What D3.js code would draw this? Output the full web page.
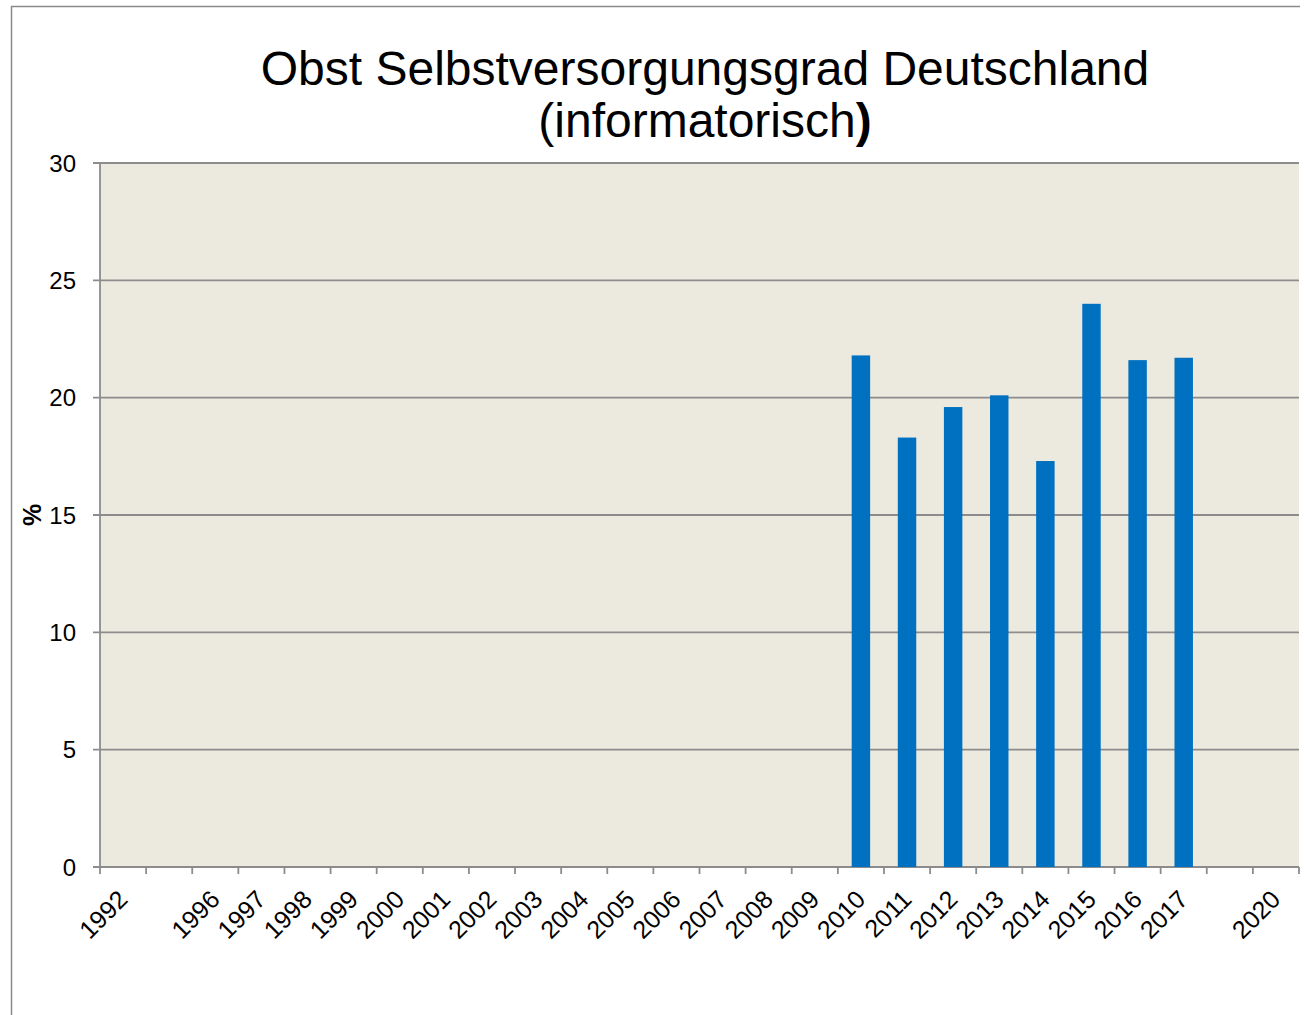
<!DOCTYPE html>
<html>
<head>
<meta charset="utf-8">
<script src="https://cdn.jsdelivr.net/npm/d3@7"></script>
<style>
  body { margin: 0; background: #fff; }
  text { font-family: "Liberation Sans", Arial, sans-serif; fill: #000; }
</style>
</head>
<body>
<svg id="chart" width="1304" height="1015"></svg>
<script>
// categories as on the axis (blanks are gaps in the original series)
var years = ["1992", "", "1996", "1997", "1998", "1999", "2000", "2001", "2002",
  "2003", "2004", "2005", "2006", "2007", "2008", "2009", "2010", "2011",
  "2012", "2013", "2014", "2015", "2016", "2017", "", "2020"];
var values = [null, null, null, null, null, null, null, null, null,
  null, null, null, null, null, null, null, 21.8, 18.3,
  19.6, 20.1, 17.3, 24.0, 21.6, 21.7, null, null];
var yTicks = [0, 5, 10, 15, 20, 25, 30];

var svg = d3.select("#chart");
var plotLeft = 100, plotRight = 1299, plotTop = 163, plotBottom = 867;

// outer frame
svg.append("path")
  .attr("d", "M11.5,1015 V6.5 H1300")
  .attr("fill", "none")
  .attr("stroke", "#8a8a8a")
  .attr("stroke-width", 1.5);

var x = d3.scaleBand()
  .domain(d3.range(years.length))
  .range([plotLeft, plotRight])
  .paddingInner(0)
  .paddingOuter(0);

var y = d3.scaleLinear().domain([0, 30]).range([plotBottom, plotTop]);

svg.append("rect")
  .attr("x", plotLeft).attr("y", plotTop)
  .attr("width", plotRight - plotLeft).attr("height", plotBottom - plotTop)
  .attr("fill", "#ECEADF");

// gridlines + y ticks
svg.selectAll(".grid").data(yTicks).enter()
  .append("line")
  .attr("x1", plotLeft - 7).attr("x2", plotRight)
  .attr("y1", function(d) { return y(d); })
  .attr("y2", function(d) { return y(d); })
  .attr("stroke", "#8c8c8c")
  .attr("stroke-width", 1.8);

svg.selectAll(".ylab").data(yTicks).enter()
  .append("text")
  .attr("x", 76)
  .attr("y", function(d) { return y(d) + 8.5; })
  .attr("text-anchor", "end")
  .style("font-size", "24px")
  .text(function(d) { return d; });

// y axis line
svg.append("line")
  .attr("x1", plotLeft).attr("x2", plotLeft)
  .attr("y1", plotTop).attr("y2", plotBottom)
  .attr("stroke", "#8c8c8c").attr("stroke-width", 1.8);

// bars
var barW = x.bandwidth() * 0.4;
svg.selectAll(".bar").data(values.map(function(v, i) { return {v: v, i: i}; })
    .filter(function(d) { return d.v != null; }))
  .enter()
  .append("rect")
  .attr("x", function(d) { return x(d.i) + (x.bandwidth() - barW) / 2; })
  .attr("y", function(d) { return y(d.v); })
  .attr("width", barW)
  .attr("height", function(d) { return y(0) - y(d.v); })
  .attr("fill", "#0070C0");

// x axis ticks at category boundaries
var bounds = d3.range(years.length + 1).map(function(i) {
  return i < years.length ? x(i) : plotRight;
});
svg.selectAll(".xtick").data(bounds).enter()
  .append("line")
  .attr("x1", function(d) { return d; }).attr("x2", function(d) { return d; })
  .attr("y1", plotBottom).attr("y2", plotBottom + 7)
  .attr("stroke", "#8c8c8c").attr("stroke-width", 1.8);

svg.selectAll(".xlab").data(years).enter()
  .append("text")
  .attr("transform", function(d, i) {
    var cx = x(i) + x.bandwidth() / 2 + 6;
    return "translate(" + cx + "," + 901 + ") rotate(-45)";
  })
  .attr("text-anchor", "end")
  .style("font-size", "25px")
  .text(function(d) { return d; });

// y axis title
svg.append("text")
  .attr("transform", "translate(41,515) rotate(-90)")
  .attr("text-anchor", "middle")
  .style("font-size", "25px")
  .style("font-weight", "bold")
  .text("%");

// title
var title = svg.append("text")
  .attr("text-anchor", "middle")
  .style("font-size", "48px");
title.append("tspan").attr("x", 705).attr("y", 85)
  .text("Obst Selbstversorgungsgrad Deutschland");
var t2 = title.append("tspan").attr("x", 705).attr("y", 137);
t2.append("tspan").text("(informatorisch");
t2.append("tspan").style("font-weight", "bold").text(")");
</script>
</body>
</html>
